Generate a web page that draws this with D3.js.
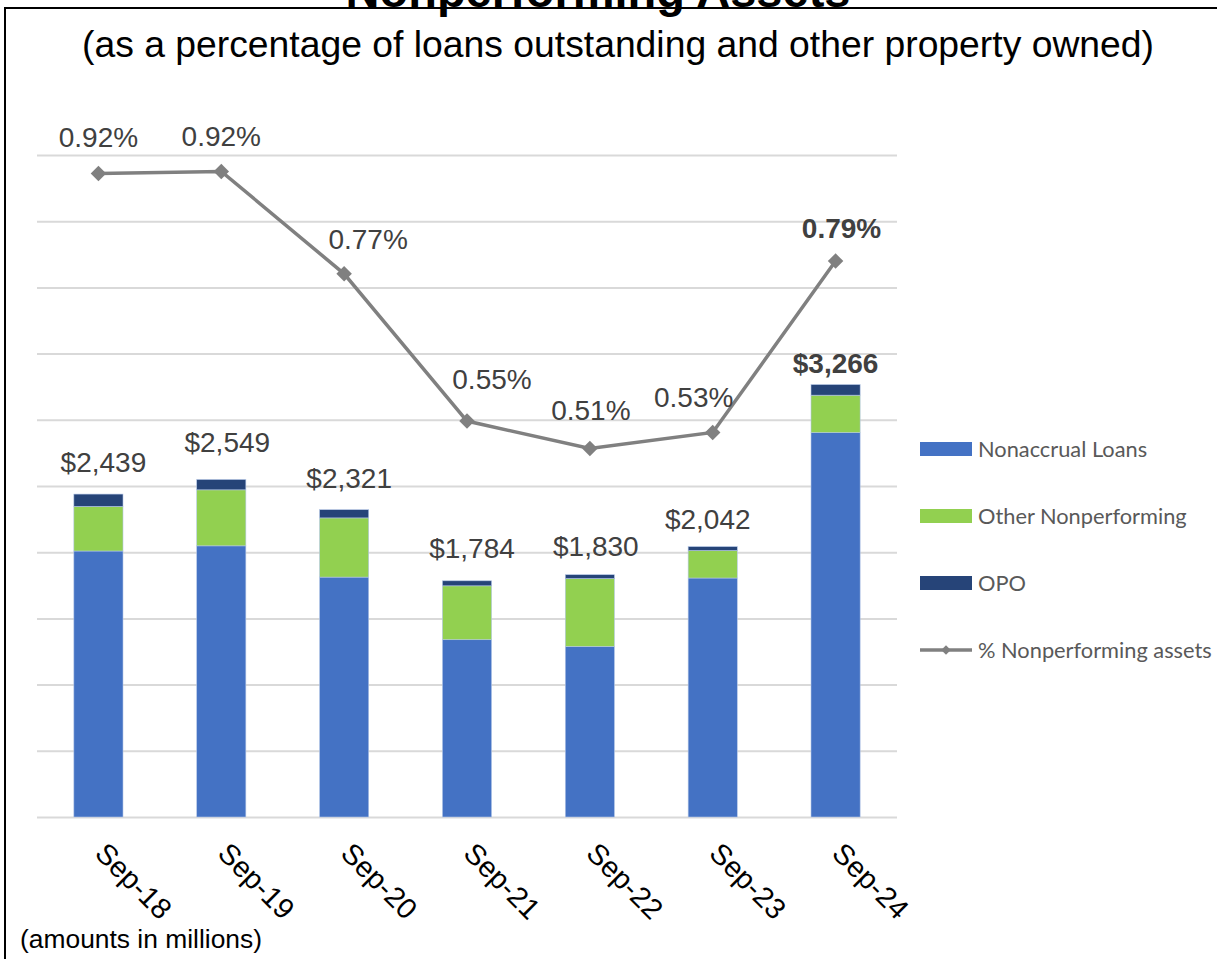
<!DOCTYPE html>
<html>
<head>
<meta charset="utf-8">
<script src="https://cdn.jsdelivr.net/npm/d3@7"></script>
<style>
  body { margin: 0; background: #fff; }
  svg { display: block; }
  text { font-family: "Liberation Sans", Arial, sans-serif; }
</style>
</head>
<body>
<svg id="chart" width="1217" height="959"></svg>
<script>
// data, in $ millions and %
var periods = ["Sep-18", "Sep-19", "Sep-20", "Sep-21", "Sep-22", "Sep-23", "Sep-24"];
var nonaccrual = [2009, 2048, 1812, 1339, 1288, 1805, 2903];
var otherNonperf = [337, 423, 447, 407, 513, 208, 283];
var opo = [93, 78, 62, 38, 29, 29, 80];
var totals = [2439, 2549, 2321, 1784, 1830, 2042, 3266];
var pctNonperf = [0.920, 0.923, 0.770, 0.550, 0.509, 0.533, 0.789];
var yTicks = [0, 500, 1000, 1500, 2000, 2500, 3000, 3500, 4000, 4500, 5000];

// hand-placed data label nudges (px), like the original
var totalLabelDx = [5, 6, 5, 5, 6, -5, 0];
var totalLabelDy = [-22, -28, -22, -23, -19, -18, -12];
var pctLabelDx = [0, 0, 24, 25, 1, -19, 6];
var pctLabelDy = [-26, -25, -25, -32, -29, -25, -23];

var seriesKeys = ["nonaccrual", "other", "opo"];
var seriesNames = ["Nonaccrual Loans", "Other Nonperforming", "OPO"];
var colors = { nonaccrual: "#4472C4", other: "#92D050", opo: "#264478" };

var table = periods.map(function(p, i) {
  return { period: p, nonaccrual: nonaccrual[i], other: otherNonperf[i], opo: opo[i] };
});

var svg = d3.select("#chart");
var plot = { left: 37, right: 897, top: 155, bottom: 817 };

var x = d3.scaleBand().domain(periods).range([plot.left, plot.right])
  .paddingInner(0.6).paddingOuter(0.3);
var y = d3.scaleLinear().domain([0, 5000]).range([plot.bottom, plot.top]);
// secondary axis for the percentage line
var y2 = d3.scaleLinear().domain([-0.0415, 0.9475]).range([plot.bottom, plot.top]);

// frame
svg.append("rect")
  .attr("x", 5).attr("y", 8)
  .attr("width", 1400).attr("height", 1100)
  .attr("fill", "none").attr("stroke", "#000").attr("stroke-width", 2);

// titles (the main title sits half off the top, as in the source)
svg.append("text")
  .attr("x", 598).attr("y", 7)
  .attr("text-anchor", "middle")
  .style("font-size", "47px").style("font-weight", "bold")
  .text("Nonperforming Assets");

svg.append("text")
  .attr("x", 618).attr("y", 57)
  .attr("text-anchor", "middle")
  .style("font-size", "37.3px")
  .text("(as a percentage of loans outstanding and other property owned)");

// gridlines
var grid = svg.append("g")
  .attr("transform", "translate(" + plot.left + ",0)")
  .call(d3.axisLeft(y).tickValues(yTicks).tickSize(-(plot.right - plot.left)).tickFormat(""));
grid.select(".domain").remove();
grid.selectAll("line").attr("stroke", "#d9d9d9").attr("stroke-width", 2);

// stacked bars
var stacked = d3.stack().keys(seriesKeys)(table);
svg.append("g").selectAll("g")
  .data(stacked)
  .join("g")
  .attr("fill", function(d) { return colors[d.key]; })
  .selectAll("rect")
  .data(function(d) { return d; })
  .join("rect")
  .attr("x", function(d) { return x(d.data.period); })
  .attr("width", x.bandwidth())
  .attr("y", function(d) { return y(d[1]); })
  .attr("height", function(d) { return y(d[0]) - y(d[1]); })
  .attr("stroke", "#b4c7e7").attr("stroke-width", 0.6);

// total labels
svg.append("g").selectAll("text")
  .data(periods)
  .join("text")
  .attr("x", function(d, i) { return x(d) + x.bandwidth() / 2 + totalLabelDx[i]; })
  .attr("y", function(d, i) { return y(nonaccrual[i] + otherNonperf[i] + opo[i]) + totalLabelDy[i]; })
  .attr("text-anchor", "middle")
  .attr("fill", "#404040")
  .style("font-size", "28px")
  .style("font-weight", function(d, i) { return i === periods.length - 1 ? "bold" : "normal"; })
  .text(function(d, i) { return "$" + d3.format(",")(totals[i]); });

// x axis labels
var xAxis = svg.append("g")
  .attr("transform", "translate(0," + plot.bottom + ")")
  .call(d3.axisBottom(x).tickSize(0));
xAxis.select(".domain").remove();
xAxis.selectAll("text")
  .attr("x", 0).attr("y", 0).attr("dy", null)
  .attr("transform", "translate(-5,38) rotate(45)")
  .style("text-anchor", "start")
  .style("font-size", "29px")
  .style("font-family", "'Liberation Sans', Arial, sans-serif")
  .attr("fill", "#000");

// percentage line
var line = d3.line()
  .x(function(d, i) { return x(periods[i]) + x.bandwidth() / 2; })
  .y(function(d) { return y2(d); });

svg.append("path")
  .datum(pctNonperf)
  .attr("d", line)
  .attr("fill", "none")
  .attr("stroke", "#808080")
  .attr("stroke-width", 3.5);

var diamond = d3.symbol().type(d3.symbolSquare).size(120);
svg.append("g").selectAll("path")
  .data(pctNonperf)
  .join("path")
  .attr("d", diamond)
  .attr("fill", "#808080")
  .attr("transform", function(d, i) {
    return "translate(" + (x(periods[i]) + x.bandwidth() / 2) + "," + y2(d) + ") rotate(45)";
  });

svg.append("g").selectAll("text")
  .data(pctNonperf)
  .join("text")
  .attr("x", function(d, i) { return x(periods[i]) + x.bandwidth() / 2 + pctLabelDx[i]; })
  .attr("y", function(d, i) { return y2(d) + pctLabelDy[i]; })
  .attr("text-anchor", "middle")
  .attr("fill", "#404040")
  .style("font-size", "28px")
  .style("font-weight", function(d, i) { return i === pctNonperf.length - 1 ? "bold" : "normal"; })
  .text(function(d) { return d3.format(".2f")(d) + "%"; });

// legend
var legend = svg.append("g").attr("transform", "translate(920,449)");
seriesKeys.forEach(function(k, i) {
  var g = legend.append("g").attr("transform", "translate(0," + (i * 67) + ")");
  g.append("rect").attr("x", 0).attr("y", -7).attr("width", 52).attr("height", 14).attr("fill", colors[k]);
  g.append("text").attr("x", 58).attr("y", 7.5)
    .attr("fill", "#595959").style("font-size", "21.8px").style("font-family", "Lato, 'Open Sans', sans-serif")
    .text(seriesNames[i]);
});
var lg = legend.append("g").attr("transform", "translate(0," + (3 * 67) + ")");
lg.append("line").attr("x1", 0).attr("x2", 52).attr("y1", 0).attr("y2", 0)
  .attr("stroke", "#808080").attr("stroke-width", 3.5);
lg.append("path").attr("d", d3.symbol().type(d3.symbolSquare).size(45))
  .attr("fill", "#808080").attr("transform", "translate(26,0) rotate(45)");
lg.append("text").attr("x", 58).attr("y", 7.5)
  .attr("fill", "#595959").style("font-size", "21.8px").style("font-family", "Lato, 'Open Sans', sans-serif")
  .text("% Nonperforming assets");

// footnote
svg.append("text")
  .attr("x", 20).attr("y", 948)
  .style("font-size", "26.4px")
  .text("(amounts in millions)");
</script>
</body>
</html>
